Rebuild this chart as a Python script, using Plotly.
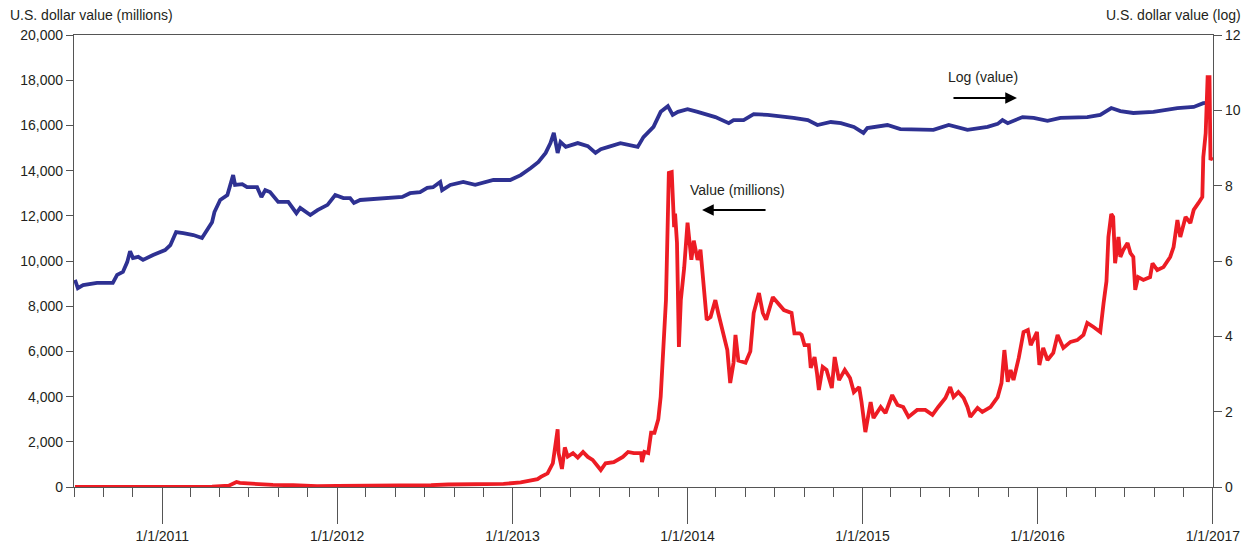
import plotly.graph_objects as go

# ---- Data: log(value), right axis ----
log_dates = [
    "2010-07-03", "2010-07-09", "2010-07-20", "2010-08-18", "2010-09-20", "2010-09-29",
    "2010-10-11", "2010-10-20", "2010-10-26", "2010-11-01", "2010-11-12", "2010-11-22",
    "2010-12-13", "2011-01-07", "2011-01-18", "2011-01-30", "2011-02-14", "2011-03-07",
    "2011-03-25", "2011-04-05", "2011-04-15", "2011-04-20", "2011-05-02", "2011-05-17",
    "2011-05-23", "2011-05-29", "2011-06-02", "2011-06-17", "2011-06-27", "2011-07-18",
    "2011-07-27", "2011-08-04", "2011-08-14", "2011-08-31", "2011-09-21", "2011-10-08",
    "2011-10-16", "2011-11-06", "2011-11-21", "2011-12-12", "2011-12-28", "2012-01-14",
    "2012-01-28", "2012-02-05", "2012-02-18", "2012-03-16", "2012-04-21", "2012-05-16",
    "2012-06-01", "2012-06-22", "2012-07-07", "2012-07-19", "2012-08-03", "2012-08-07",
    "2012-08-24", "2012-09-20", "2012-10-15", "2012-11-01", "2012-11-22", "2012-12-27",
    "2013-01-18", "2013-02-08", "2013-02-24", "2013-03-11", "2013-03-21", "2013-03-28",
    "2013-04-05", "2013-04-11", "2013-04-22", "2013-05-17", "2013-06-07", "2013-06-23",
    "2013-07-04", "2013-07-20", "2013-08-14", "2013-09-19", "2013-10-01", "2013-10-22",
    "2013-11-06", "2013-11-21", "2013-12-01", "2013-12-12", "2014-01-01", "2014-01-22",
    "2014-02-12", "2014-02-28", "2014-03-28", "2014-04-07", "2014-04-28", "2014-05-19",
    "2014-06-17", "2014-07-14", "2014-08-10", "2014-09-09", "2014-09-29", "2014-10-27",
    "2014-11-17", "2014-12-14", "2015-01-03", "2015-01-11", "2015-02-22", "2015-03-21",
    "2015-05-29", "2015-06-30", "2015-08-08", "2015-09-19", "2015-10-10", "2015-10-20",
    "2015-10-31", "2015-12-01", "2015-12-24", "2016-01-22", "2016-02-18", "2016-04-14",
    "2016-05-11", "2016-06-03", "2016-06-22", "2016-07-19", "2016-08-30", "2016-10-19",
    "2016-11-22", "2016-12-12", "2016-12-21",
]
log_values = [
    5.50, 5.28, 5.36, 5.42, 5.42, 5.63,
    5.71, 5.97, 6.26, 6.08, 6.11, 6.03,
    6.16, 6.29, 6.42, 6.77, 6.74, 6.69,
    6.61, 6.82, 7.03, 7.30, 7.62, 7.75,
    8.02, 8.28, 8.02, 8.04, 7.96, 7.96,
    7.70, 7.88, 7.83, 7.57, 7.57, 7.27,
    7.41, 7.22, 7.35, 7.49, 7.75, 7.67,
    7.67, 7.54, 7.62, 7.65, 7.67, 7.70,
    7.80, 7.83, 7.94, 7.96, 8.10, 7.88,
    8.02, 8.10, 8.02, 8.07, 8.15, 8.15,
    8.28, 8.47, 8.63, 8.87, 9.13, 9.40,
    8.87, 9.16, 9.03, 9.13, 9.05, 8.87,
    8.97, 9.03, 9.13, 9.03, 9.29, 9.56,
    9.96, 10.11, 9.88, 9.96, 10.03, 9.96,
    9.88, 9.82, 9.66, 9.74, 9.74, 9.90,
    9.88, 9.85, 9.80, 9.74, 9.61, 9.69,
    9.66, 9.56, 9.40, 9.53, 9.61, 9.50,
    9.48, 9.61, 9.48, 9.56, 9.64, 9.74,
    9.66, 9.82, 9.80, 9.72, 9.80, 9.82,
    9.88, 10.06, 9.98, 9.93, 9.96, 10.06,
    10.09, 10.19, 10.20,
]

# ---- Data: value in millions of USD, left axis ----
val_dates = [
    "2010-07-03", "2010-09-01", "2010-11-06", "2010-12-15", "2011-01-20", "2011-03-01",
    "2011-04-15", "2011-05-20", "2011-06-05", "2011-06-12", "2011-07-15", "2011-08-20",
    "2011-10-01", "2011-11-20", "2012-01-01", "2012-03-15", "2012-05-20", "2012-07-15",
    "2012-08-20", "2012-10-01", "2012-12-01", "2012-12-13", "2013-01-18", "2013-02-22",
    "2013-03-01", "2013-03-15", "2013-03-26", "2013-03-30", "2013-04-05", "2013-04-07",
    "2013-04-14", "2013-04-20", "2013-04-26", "2013-05-07", "2013-05-17", "2013-05-28",
    "2013-06-07", "2013-06-17", "2013-07-04", "2013-07-14", "2013-07-31", "2013-08-19",
    "2013-08-30", "2013-09-11", "2013-09-26", "2013-09-28", "2013-10-03", "2013-10-11",
    "2013-10-17", "2013-10-24", "2013-11-01", "2013-11-06", "2013-11-12", "2013-11-17",
    "2013-11-23", "2013-11-29", "2013-12-04", "2013-12-06", "2013-12-10", "2013-12-14",
    "2013-12-18", "2013-12-25", "2014-01-01", "2014-01-09", "2014-01-14", "2014-01-22",
    "2014-01-28", "2014-02-04", "2014-02-10", "2014-02-18", "2014-02-28", "2014-03-06",
    "2014-03-17", "2014-03-25", "2014-03-31", "2014-04-07", "2014-04-11", "2014-04-17",
    "2014-05-02", "2014-05-12", "2014-05-19", "2014-05-30", "2014-06-07", "2014-06-14",
    "2014-06-28", "2014-07-09", "2014-07-21", "2014-08-06", "2014-08-12", "2014-08-23",
    "2014-08-27", "2014-09-02", "2014-09-11", "2014-09-15", "2014-09-23", "2014-09-28",
    "2014-10-02", "2014-10-10", "2014-10-18", "2014-10-29", "2014-11-04", "2014-11-13",
    "2014-11-25", "2014-12-06", "2014-12-14", "2014-12-25", "2014-12-30", "2015-01-07",
    "2015-01-18", "2015-01-24", "2015-02-08", "2015-02-18", "2015-03-04", "2015-03-15",
    "2015-03-27", "2015-04-07", "2015-04-25", "2015-05-12", "2015-05-27", "2015-06-08",
    "2015-06-23", "2015-07-03", "2015-07-10", "2015-07-20", "2015-07-31", "2015-08-08",
    "2015-08-14", "2015-08-29", "2015-09-08", "2015-09-25", "2015-10-10", "2015-10-18",
    "2015-10-24", "2015-10-31", "2015-11-06", "2015-11-12", "2015-11-23", "2015-12-03",
    "2015-12-12", "2015-12-18", "2015-12-31", "2016-01-05", "2016-01-13", "2016-01-22",
    "2016-02-03", "2016-02-12", "2016-02-24", "2016-03-10", "2016-03-24", "2016-04-06",
    "2016-04-14", "2016-04-27", "2016-05-11", "2016-05-18", "2016-05-24", "2016-05-28",
    "2016-06-03", "2016-06-07", "2016-06-11", "2016-06-18", "2016-06-22", "2016-06-28",
    "2016-07-07", "2016-07-13", "2016-07-19", "2016-07-23", "2016-07-29", "2016-08-09",
    "2016-08-23", "2016-08-28", "2016-09-07", "2016-09-20", "2016-10-04", "2016-10-11",
    "2016-10-19", "2016-10-25", "2016-11-05", "2016-11-15", "2016-11-22", "2016-12-02",
    "2016-12-10", "2016-12-12", "2016-12-17", "2016-12-21", "2016-12-25", "2016-12-27",
    "2016-12-31",
]
val_values = [
    0.3, 0.5, 2, 1.5, 3, 8,
    15, 60, 220, 180, 130, 90,
    80, 40, 50, 50, 50, 80,
    110, 110, 130, 140, 200, 350,
    450, 600, 1050, 1650, 2550, 1500,
    800, 1750, 1350, 1500, 1300, 1550,
    1330, 1200, 750, 1050, 1100, 1330,
    1550, 1500, 1500, 1100, 1550, 1500,
    2400, 2400, 3000, 4000, 6060, 8270,
    13900, 13940, 11500, 12100, 10800, 6200,
    8270, 9700, 11700, 10050, 10900, 10050,
    10500, 8580, 7400, 7520, 8270, 7700,
    6800, 6060, 4600, 5500, 6730, 5600,
    5500, 6000, 7700, 8580, 7700, 7400,
    8400, 8140, 7830, 7700, 6800, 6800,
    6730, 6280, 6280, 5270, 5750, 5040,
    4290, 5310, 5180, 4380, 5750, 4730,
    5180, 4820, 4200, 4420, 3760, 2430,
    3760, 3050, 3540, 3270, 4070, 3630,
    3540, 3100, 3410, 3410, 3190, 3540,
    3940, 4420, 3980, 4200, 3940, 3540,
    3100, 3500, 3320, 3540, 3980, 4600,
    6060, 4650, 5180, 4730, 5710, 6860,
    6950, 6280, 6860, 5400, 6150, 5620,
    5930, 6730, 6150, 6420, 6500, 6730,
    7260, 7080, 6860, 8140, 9100, 11060,
    12080, 11950, 9900, 11060, 10180, 10490,
    10800, 10350, 10180, 8720, 9290, 9160,
    9290, 9900, 9600, 9730, 10180, 10620,
    11810, 11060, 11950, 11680, 12260, 12570,
    12830, 14600, 15660, 18140, 18140, 14470,
    14600,
]

left_ticks = [0, 2000, 4000, 6000, 8000, 10000, 12000, 14000, 16000, 18000, 20000]
right_ticks = [0, 2, 4, 6, 8, 10, 12]

FONT = "Liberation Sans, Arial, sans-serif"
TXT = "#231f20"
AX = "#555555"
RED = "#ed1c24"
BLUE = "#2e3192"

fig = go.Figure()
fig.add_trace(go.Scatter(x=log_dates, y=log_values, mode="lines",
                         line=dict(color=BLUE, width=3.8), yaxis="y", showlegend=False))
fig.add_trace(go.Scatter(x=val_dates, y=val_values, mode="lines",
                         line=dict(color=RED, width=3.8), yaxis="y2", showlegend=False))

# the page body adds an 8px offset (left/top), so the figure is 8px smaller
fig.update_layout(
    width=1246, height=538,
    margin=dict(l=66, r=41, t=27, b=59, autoexpand=False),
    paper_bgcolor="white", plot_bgcolor="white",
    font=dict(family=FONT, size=14, color=TXT),
    xaxis=dict(
        type="date", automargin=False,
        range=["2010-07-01", "2017-01-01 06:00"],
        tick0="2011-01-01", dtick="M12", tickformat="%-m/%-d/%Y",
        ticks="outside", ticklen=36, tickcolor=AX, tickwidth=1,
        minor=dict(tick0="2010-07-01", dtick="M2", ticks="outside", ticklen=9,
                   tickcolor=AX, tickwidth=1),
        showline=True, linecolor=AX, linewidth=1.2, mirror=True,
        showgrid=False, zeroline=False,
        tickfont=dict(size=14, color=TXT),
    ),
    yaxis=dict(
        side="right", range=[0, 12], tickvals=right_ticks, automargin=False,
        ticks="outside", ticklen=8, tickcolor=AX, tickwidth=1,
        showline=True, linecolor=AX, linewidth=1.2,
        showgrid=False, zeroline=False,
        tickfont=dict(size=14, color=TXT),
    ),
    yaxis2=dict(
        side="left", overlaying="y", range=[0, 20000], tickvals=left_ticks,
        tickformat=",d", automargin=False,
        ticks="outside", ticklen=7, tickcolor=AX, tickwidth=1,
        showline=True, linecolor=AX, linewidth=1.2,
        showgrid=False, zeroline=False,
        tickfont=dict(size=14, color=TXT),
    ),
)

fig.add_annotation(text="U.S. dollar value (millions)", xref="paper", yref="paper",
                   x=-0.0579, y=1.044, xanchor="left", yanchor="middle",
                   showarrow=False, font=dict(size=14, color=TXT))
fig.add_annotation(text="U.S. dollar value (log)", xref="paper", yref="paper",
                   x=1.0263, y=1.044, xanchor="right", yanchor="middle",
                   showarrow=False, font=dict(size=14, color=TXT))

# in-chart labels with arrows
fig.add_annotation(text="Value (millions)", xref="paper", yref="paper",
                   x=0.5825, y=0.657, xanchor="center", yanchor="middle",
                   showarrow=False, font=dict(size=14, color=TXT))
fig.add_annotation(text="", xref="paper", yref="paper", x=0.5514, y=0.6128,
                   ax=65, ay=0, showarrow=True, arrowhead=2, arrowsize=1.3,
                   arrowwidth=1.8, arrowcolor="black", standoff=0)
fig.add_annotation(text="Log (value)", xref="paper", yref="paper",
                   x=0.798, y=0.907, xanchor="center", yanchor="middle",
                   showarrow=False, font=dict(size=14, color=TXT))
fig.add_annotation(text="", xref="paper", yref="paper", x=0.8279, y=0.8606,
                   ax=-65, ay=0, showarrow=True, arrowhead=2, arrowsize=1.3,
                   arrowwidth=1.8, arrowcolor="black", standoff=0)

fig.write_html("out.html")
